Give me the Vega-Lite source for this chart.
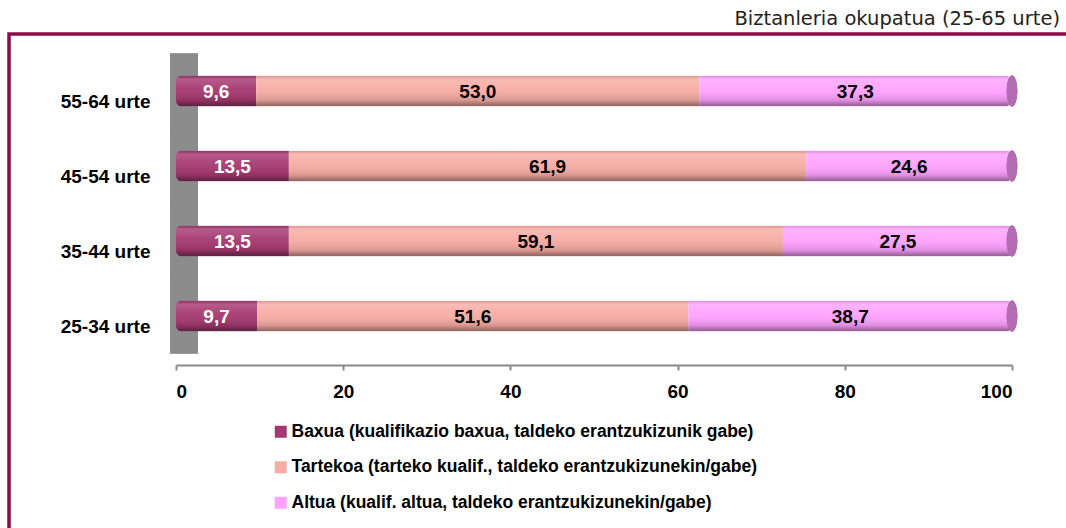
{
  "$schema": "https://vega.github.io/schema/vega-lite/v6.json",
  "width": 1062,
  "height": 497,
  "autosize": {"type": "none"},
  "padding": {"left": 9, "top": 34, "right": 0, "bottom": 0},
  "background": "white",
  "title": {
    "text": "Biztanleria okupatua (25-65 urte)",
    "anchor": "end",
    "frame": "group",
    "font": "DejaVu Sans",
    "fontSize": 19.5,
    "fontWeight": "normal",
    "color": "#222222",
    "offset": 5,
    "dx": -11
  },
  "config": {
    "view": {"stroke": "#8C0A48", "strokeWidth": 3.5},
    "locale": {"number": {"decimal": ",", "thousands": ".", "grouping": [3], "currency": ["", " €"]}},
    "axis": {"grid": false}
  },
  "data": {
    "values": [
      {"group": "55-64 urte", "cat": "Baxua (kualifikazio baxua, taldeko erantzukizunik gabe)", "level": 1, "value": 9.6},
      {"group": "55-64 urte", "cat": "Tartekoa (tarteko kualif., taldeko erantzukizunekin/gabe)", "level": 2, "value": 53.0},
      {"group": "55-64 urte", "cat": "Altua (kualif. altua, taldeko erantzukizunekin/gabe)", "level": 3, "value": 37.3},
      {"group": "45-54 urte", "cat": "Baxua (kualifikazio baxua, taldeko erantzukizunik gabe)", "level": 1, "value": 13.5},
      {"group": "45-54 urte", "cat": "Tartekoa (tarteko kualif., taldeko erantzukizunekin/gabe)", "level": 2, "value": 61.9},
      {"group": "45-54 urte", "cat": "Altua (kualif. altua, taldeko erantzukizunekin/gabe)", "level": 3, "value": 24.6},
      {"group": "35-44 urte", "cat": "Baxua (kualifikazio baxua, taldeko erantzukizunik gabe)", "level": 1, "value": 13.5},
      {"group": "35-44 urte", "cat": "Tartekoa (tarteko kualif., taldeko erantzukizunekin/gabe)", "level": 2, "value": 59.1},
      {"group": "35-44 urte", "cat": "Altua (kualif. altua, taldeko erantzukizunekin/gabe)", "level": 3, "value": 27.5},
      {"group": "25-34 urte", "cat": "Baxua (kualifikazio baxua, taldeko erantzukizunik gabe)", "level": 1, "value": 9.7},
      {"group": "25-34 urte", "cat": "Tartekoa (tarteko kualif., taldeko erantzukizunekin/gabe)", "level": 2, "value": 51.6},
      {"group": "25-34 urte", "cat": "Altua (kualif. altua, taldeko erantzukizunekin/gabe)", "level": 3, "value": 38.7}
    ]
  },
  "encoding": {
    "y": {
      "field": "group",
      "type": "nominal",
      "sort": null,
      "title": null,
      "scale": {"range": [19.5, 319.5], "paddingInner": 0, "paddingOuter": 0},
      "axis": {
        "domain": false,
        "ticks": false,
        "tickSize": 0,
        "offset": -141,
        "labelPadding": 0,
        "labelOffset": 11,
        "labelFont": "Liberation Sans",
        "labelFontWeight": "bold",
        "labelFontSize": 19,
        "labelColor": "#000000"
      }
    }
  },
  "layer": [
    {
      "mark": {"type": "bar", "color": "#8C8C8C", "height": {"band": 1}},
      "encoding": {
        "x": {"datum": -0.7, "type": "quantitative"},
        "x2": {"datum": 2.6}
      }
    },
    {
      "mark": {"type": "bar", "orient": "horizontal", "size": 31, "cornerRadius": 6},
      "encoding": {
        "x": {
          "field": "value",
          "type": "quantitative",
          "stack": "zero",
          "title": null,
          "scale": {"domain": [0, 100], "range": [167, 1003], "nice": false, "zero": false},
          "axis": {
            "values": [0, 20, 40, 60, 80, 100],
            "offset": -166,
            "domainColor": "#8A8A8A",
            "domainWidth": 2,
            "tickColor": "#8A8A8A",
            "tickWidth": 2,
            "tickSize": 5,
            "labelPadding": 12,
            "labelFont": "Liberation Sans",
            "labelFontWeight": "bold",
            "labelFontSize": 19,
            "labelColor": "#000000"
          }
        },
        "color": {
          "field": "cat",
          "type": "nominal",
          "sort": null,
          "scale": {"range": ["#A53870", "#F7ACA4", "#FFA2FF"]},
          "legend": {
            "title": null,
            "orient": "none",
            "legendX": 263,
            "legendY": 389,
            "direction": "vertical",
            "symbolType": "square",
            "symbolSize": 144,
            "symbolStrokeWidth": 0,
            "labelFont": "Liberation Sans",
            "labelFontWeight": "bold",
            "labelFontSize": 17.5,
            "labelColor": "#000000",
            "labelLimit": 700,
            "labelOffset": 2,
            "rowPadding": 16.5
          }
        },
        "order": {"field": "level", "type": "quantitative"}
      }
    },
    {
      "mark": {
        "type": "bar",
        "orient": "horizontal",
        "size": 31,
        "cornerRadius": 6,
        "fill": {
          "gradient": "linear",
          "x1": 0, "y1": 0, "x2": 0, "y2": 1,
          "stops": [
            {"offset": 0, "color": "rgba(0,0,0,0.12)"},
            {"offset": 0.12, "color": "rgba(255,255,255,0.18)"},
            {"offset": 0.45, "color": "rgba(255,255,255,0.05)"},
            {"offset": 0.8, "color": "rgba(0,0,0,0.12)"},
            {"offset": 1, "color": "rgba(0,0,0,0.45)"}
          ]
        }
      },
      "encoding": {
        "x": {"field": "value", "type": "quantitative", "stack": "zero"},
        "detail": {"field": "cat"},
        "order": {"field": "level", "type": "quantitative"}
      }
    },
    {
      "mark": {
        "type": "point",
        "filled": true,
        "shape": "M0,-1A0.34,1,0,1,1,0,1A0.34,1,0,1,1,0,-1Z",
        "size": 961,
        "color": "#B26CB2",
        "opacity": 1,
        "strokeWidth": 0
      },
      "encoding": {
        "x": {"datum": 100, "type": "quantitative"}
      }
    },
    {
      "mark": {
        "type": "text",
        "font": "Liberation Sans",
        "fontWeight": "bold",
        "fontSize": 19,
        "baseline": "middle",
        "align": "center",
        "dy": 1
      },
      "encoding": {
        "x": {"field": "value", "type": "quantitative", "stack": "zero", "bandPosition": 0.5},
        "detail": {"field": "cat"},
        "order": {"field": "level", "type": "quantitative"},
        "text": {"field": "value", "type": "quantitative", "format": ".1f"},
        "color": {"condition": {"test": "datum.level === 1", "value": "#FFFFFF"}, "value": "#000000"}
      }
    }
  ]
}
